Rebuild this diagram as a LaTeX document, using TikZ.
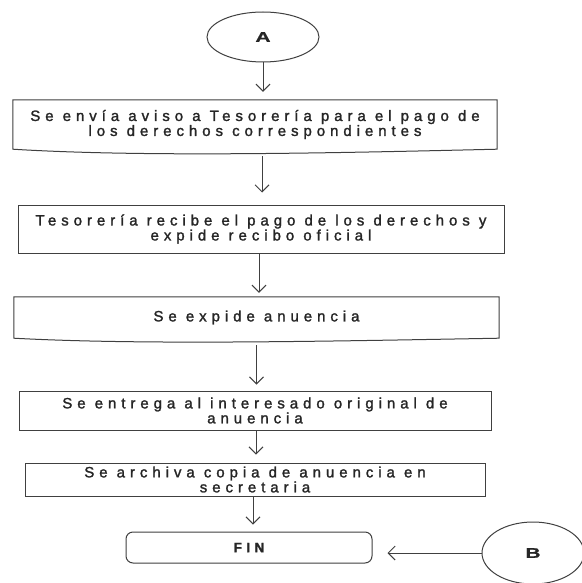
\documentclass[tikz,border=0pt]{standalone}
\usepackage{fontspec}
\setmainfont{Liberation Sans}[LetterSpace=33,FakeBold=1.6]
\newfontfamily\wideletter{Liberation Sans}[FakeStretch=1.5,FakeBold=1]
\usetikzlibrary{arrows.meta,shapes.geometric}
\begin{document}
\begin{tikzpicture}[x=1pt,y=-1pt,
  every node/.style={font=\fontsize{15}{13.5}\selectfont, text=black!85},
  box/.style={draw=black!75, line width=1pt, rectangle, align=center, inner sep=0pt},
  docbox/.style={rectangle, align=center, inner sep=0pt},
  conn/.style={ellipse, draw=black!75, line width=1pt, inner sep=0pt,
    font=\wideletter\bfseries\fontsize{14}{14}\selectfont},
  arr/.style={draw=black!75, line width=1pt, -{Straight Barb[length=7pt,width=14pt]}},
  outline/.style={draw=black!75, line width=1pt, line join=miter}]

\useasboundingbox[fill=white] (0,0) rectangle (581,583);

\node[conn, minimum width=112pt, minimum height=50pt] (A) at (263,37) {A};

\node[docbox, minimum width=484pt, minimum height=49pt] (b1) at (255,124.5)
  {Se envía aviso a Tesorería para el pago de\\los derechos correspondientes};
\draw[outline] (b1.south east) -- (b1.north east) -- (b1.north west) -- (b1.south west)
  .. controls +(130,8) and +(-170,4) .. (b1.south east) -- cycle;

\node[box, minimum width=486pt, minimum height=48pt] (b2) at (261,229)
  {Tesorería recibe el pago de los derechos y\\expide recibo oficial};

\node[docbox, minimum width=485pt, minimum height=41pt] (b3) at (256.5,317.5)
  {\raisebox{2.5pt}{Se expide anuencia}};
\draw[outline] (b3.south east) -- (b3.north east) -- (b3.north west) -- (b3.south west)
  .. controls +(130,7) and +(-170,3) .. (b3.south east) -- cycle;

\node[box, minimum width=472pt, minimum height=39pt] (b4) at (255,410.5)
  {Se entrega al interesado original de\\anuencia};

\node[box, minimum width=460pt, minimum height=33pt] (b5) at (255,479.5)
  {Se archiva copia de anuencia en\\secretaria};

\node[box, rounded corners=7pt, minimum width=246pt, minimum height=31pt,
  font=\bfseries\fontsize{13.5}{14}\selectfont] (fin) at (249,547.5) {FIN};

\node[conn, minimum width=102pt, minimum height=62pt] (B) at (533,553) {B};

\draw[arr, shorten >=8pt] (A.south) -- (A.south |- b1.north);
\draw[arr, shorten <=7pt, shorten >=12pt] ([xshift=7pt]b1.south) -- ([xshift=7pt]b1.south |- b2.north);
\draw[arr, shorten >=4pt] ([xshift=-2pt]b2.south) -- ([xshift=-2pt]b2.south |- b3.north);
\draw[arr, shorten <=7pt, shorten >=6pt] (b3.south) -- (b3.south |- b4.north);
\draw[arr, shorten >=8pt] ([xshift=1pt]b4.south) -- ([xshift=1pt]b4.south |- b5.north);
\draw[arr, shorten >=7pt] ([xshift=-2pt]b5.south) -- ([xshift=-2pt]b5.south |- fin.north);
\draw[arr, shorten >=15pt] (B.west) -- (B.west -| fin.east);
\end{tikzpicture}
\end{document}
